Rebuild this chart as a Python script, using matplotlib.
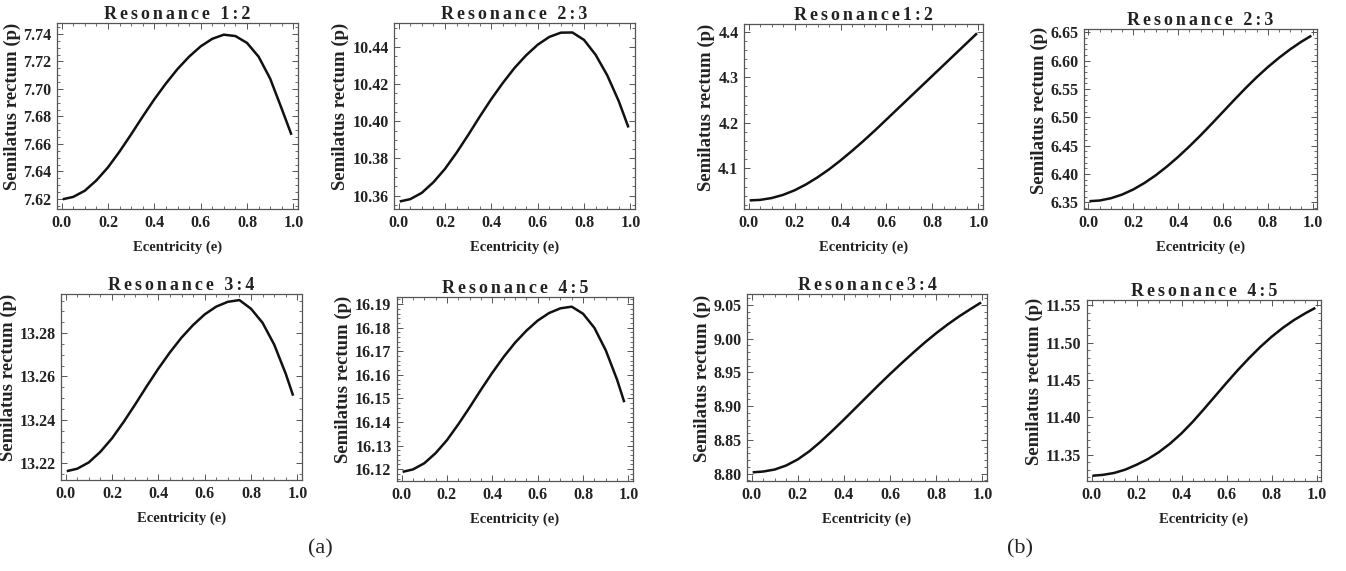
# Semilatus rectum vs eccentricity, resonances 1:2 ... 4:5, two sets (a) and (b)

import numpy as np
import matplotlib.pyplot as plt
from matplotlib.ticker import AutoMinorLocator, FormatStrFormatter

plt.rcParams['font.family'] = ['Liberation Serif', 'DejaVu Serif']

ecc = [0.01, 0.05, 0.10, 0.15, 0.20, 0.25, 0.30, 0.35, 0.40, 0.45, 0.50,
       0.55, 0.60, 0.65, 0.70, 0.75, 0.80, 0.85, 0.90, 0.95, 0.99]
ecc_short = [0.01, 0.05, 0.10, 0.15, 0.20, 0.25, 0.30, 0.35, 0.40, 0.45, 0.50,
             0.55, 0.60, 0.65, 0.70, 0.75, 0.80, 0.85, 0.90, 0.95, 0.98]

# set (a)
p_a12 = [7.6200, 7.6215, 7.6260, 7.6335, 7.6430, 7.6545, 7.6670, 7.6800, 7.6925, 7.7040, 7.7145,
         7.7235, 7.7310, 7.7365, 7.7395, 7.7385, 7.7335, 7.7235, 7.7075, 7.6855, 7.6675]
p_a23 = [10.3570, 10.3581, 10.3615, 10.3672, 10.3744, 10.3831, 10.3926, 10.4025, 10.4120, 10.4207, 10.4287,
         10.4355, 10.4412, 10.4454, 10.4477, 10.4478, 10.4438, 10.4358, 10.4248, 10.4108, 10.3973]
p_a34 = [13.2165, 13.2175, 13.2204, 13.2253, 13.2315, 13.2390, 13.2471, 13.2555, 13.2636, 13.2711, 13.2779,
         13.2837, 13.2886, 13.2922, 13.2944, 13.2952, 13.2912, 13.2847, 13.2747, 13.2612, 13.2517]
p_a45 = [16.1190, 16.1199, 16.1225, 16.1268, 16.1323, 16.1390, 16.1462, 16.1537, 16.1609, 16.1676, 16.1736,
         16.1787, 16.1830, 16.1862, 16.1882, 16.1889, 16.1859, 16.1799, 16.1704, 16.1579, 16.1489]

# set (b)
p_b12 = [4.0300, 4.0310, 4.0350, 4.0420, 4.0520, 4.0650, 4.0805, 4.0980, 4.1175, 4.1385, 4.1605,
         4.1835, 4.2075, 4.2315, 4.2555, 4.2795, 4.3035, 4.3275, 4.3515, 4.3755, 4.3947]
p_b23 = [6.3520, 6.3530, 6.3570, 6.3635, 6.3725, 6.3840, 6.3975, 6.4130, 6.4300, 6.4485, 6.4680,
         6.4885, 6.5095, 6.5305, 6.5510, 6.5705, 6.5885, 6.6050, 6.6200, 6.6335, 6.6430]
p_b34 = [8.8020, 8.8030, 8.8060, 8.8120, 8.8210, 8.8330, 8.8475, 8.8635, 8.8800, 8.8970, 8.9140,
         8.9310, 8.9475, 8.9635, 8.9790, 8.9940, 9.0080, 9.0210, 9.0330, 9.0440, 9.0525]
p_b45 = [11.3222, 11.3232, 11.3257, 11.3302, 11.3367, 11.3442, 11.3537, 11.3652, 11.3787, 11.3942, 11.4112,
         11.4287, 11.4462, 11.4632, 11.4792, 11.4942, 11.5077, 11.5197, 11.5302, 11.5392, 11.5457]

W, H = 1346, 571
fig = plt.figure(figsize=(W / 100, H / 100), dpi=100)

# (left, right, top, bottom) in pixels, title, x, y, yticks, ylim, fmt
panels = [
    ((57, 298, 23, 209), "Resonance 1:2", ecc, p_a12,
     np.arange(7.62, 7.741, 0.02), (7.6127, 7.748), '%.2f'),
    ((394, 635, 23, 209), "Resonance 2:3", ecc, p_a23,
     np.arange(10.36, 10.441, 0.02), (10.3528, 10.4529), '%.2f'),
    ((744, 983, 24, 209), "Resonance1:2", ecc, p_b12,
     np.arange(4.1, 4.41, 0.1), (4.011, 4.417), '%.1f'),
    ((1084, 1317, 29, 209), "Resonance 2:3", ecc, p_b23,
     np.arange(6.35, 6.651, 0.05), (6.338, 6.656), '%.2f'),
    ((61, 302, 294, 480), "Resonance 3:4", ecc_short, p_a34,
     np.arange(13.22, 13.281, 0.02), (13.2123, 13.298), '%.2f'),
    ((397, 633, 297, 481), "Resonance 4:5", ecc_short, p_a45,
     np.arange(16.12, 16.191, 0.01), (16.115, 16.193), '%.2f'),
    ((747, 987, 294, 481), "Resonance3:4", ecc, p_b34,
     np.arange(8.80, 9.051, 0.05), (8.789, 9.066), '%.2f'),
    ((1087, 1321, 300, 481), "Resonance 4:5", ecc, p_b45,
     np.arange(11.35, 11.551, 0.05), (11.315, 11.557), '%.2f'),
]

for (l, r, t, b), title, xs, ys, yt, yl, fmt in panels:
    ax = fig.add_axes([l / W, 1 - b / H, (r - l) / W, (b - t) / H])
    ax.plot(xs, ys, color='#111111', lw=1.8, solid_joinstyle='round')
    ax.set_xlim(-0.02, 1.02)
    ax.set_ylim(*yl)
    ax.set_xticks([0.0, 0.2, 0.4, 0.6, 0.8, 1.0])
    ax.set_yticks(yt)
    ax.xaxis.set_major_formatter(FormatStrFormatter('%.1f'))
    ax.yaxis.set_major_formatter(FormatStrFormatter(fmt))
    ax.xaxis.set_minor_locator(AutoMinorLocator())
    ax.yaxis.set_minor_locator(AutoMinorLocator())
    ax.tick_params(which='both', direction='in', top=True, right=True,
                   color='#555555', labelsize=11.5, labelcolor='#222222')
    ax.tick_params(which='major', length=4, width=0.7, pad=4)
    ax.tick_params(which='minor', length=2, width=0.6)
    for lab in ax.get_xticklabels() + ax.get_yticklabels():
        lab.set_fontweight('bold')
    for s in ax.spines.values():
        s.set_color('#555555')
        s.set_linewidth(0.9)
    # letter-spaced title like the original
    words = title.split(" ")
    spaced = "\u2006 \u2006".join("\u2006".join(w) for w in words)
    ax.set_title(spaced, fontsize=13, fontweight='bold', color='#222222', pad=3)
    ax.set_xlabel("Ecentricity (e)", fontsize=10.5, fontweight='bold', color='#222222', labelpad=7)
    ax.set_ylabel("Semilatus rectum (p)", fontsize=13.5, fontweight='bold', color='#222222', labelpad=2)
    ax.yaxis.label.set_y(0.55)

fig.text(320 / W, 1 - 549 / H, "(a)", ha='center', va='center', fontsize=16, color='#222222')
fig.text(1020 / W, 1 - 549 / H, "(b)", ha='center', va='center', fontsize=16, color='#222222')

plt.savefig('out.png', dpi=100)
